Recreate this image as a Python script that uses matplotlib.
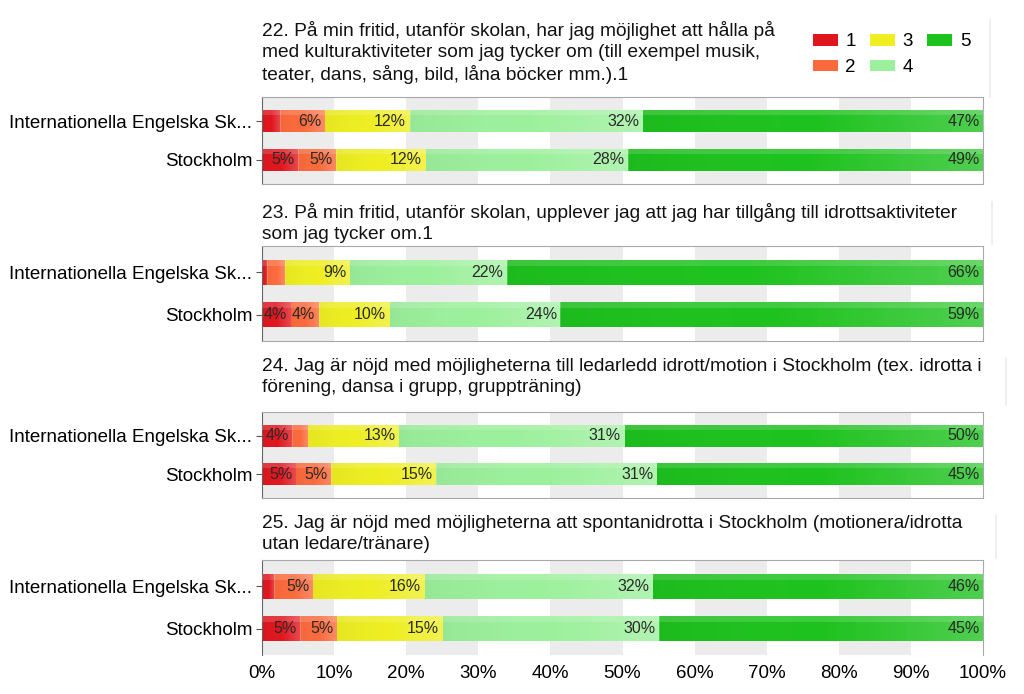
import matplotlib
matplotlib.use('Agg')
import matplotlib.pyplot as plt
from matplotlib.patches import Patch
import numpy as np

plt.rcParams['font.family'] = ['Liberation Sans', 'DejaVu Sans']

# --- data -------------------------------------------------------------
groups = ['Internationella Engelska Sk...', 'Stockholm']
answers = ['1', '2', '3', '4', '5']

titles = [
    '22. På min fritid, utanför skolan, har jag möjlighet att hålla på\n'
    'med kulturaktiviteter som jag tycker om (till exempel musik,\n'
    'teater, dans, sång, bild, låna böcker mm.).1',
    '23. På min fritid, utanför skolan, upplever jag att jag har tillgång till idrottsaktiviteter\n'
    'som jag tycker om.1',
    '24. Jag är nöjd med möjligheterna till ledarledd idrott/motion i Stockholm (tex. idrotta i\n'
    'förening, dansa i grupp, gruppträning)',
    '25. Jag är nöjd med möjligheterna att spontanidrotta i Stockholm (motionera/idrotta\n'
    'utan ledare/tränare)',
]

# percent per answer 1..5, rows = [IES, Stockholm]
q22 = [[2.5, 6.2, 11.8, 32.3, 47.2], [5.0, 5.3, 12.4, 28.1, 49.2]]
q23 = [[0.7, 2.5, 9.0, 21.8, 66.0], [4.0, 3.9, 9.8, 23.7, 58.6]]
q24 = [[4.2, 2.2, 12.6, 31.3, 49.7], [4.7, 4.9, 14.6, 30.6, 45.2]]
q25 = [[1.7, 5.4, 15.5, 31.6, 45.8], [5.3, 5.1, 14.7, 30.0, 44.9]]
questions = [q22, q23, q24, q25]

colors = ['#e0161e', '#fb6a3c', '#eeee22', '#9cf09c', '#1ec21e']

# panel positions in pixels (top, bottom) and title line start
W, H = 1024, 694
panels = [(97, 184), (246, 341), (412, 498), (560, 655)]
title_top = [21, 203, 358, 515]
shadow = [(990, 20, 97), (992, 202, 244), (1006, 358, 405), (996, 515, 558)]
x0, x1 = 262, 983

fig = plt.figure(figsize=(W / 100, H / 100), dpi=100)
fig.patch.set_facecolor('white')

grad = np.linspace(0, 1, 64).reshape(1, -1)
white_cmap = matplotlib.colors.LinearSegmentedColormap.from_list(
    'w', [(0, 0, 0, 0.04), (1, 1, 1, 0.0), (1, 1, 1, 0.22)])

for i, (q, (top, bot)) in enumerate(zip(questions, panels)):
    ax = fig.add_axes([x0 / W, 1 - bot / H, (x1 - x0) / W, (bot - top) / H])
    ax.set_xlim(0, 100)
    ax.set_ylim(1.62, -0.62)

    # alternating background bands
    for k in range(0, 100, 20):
        ax.axvspan(k, k + 10, color='#ececec', zorder=0, lw=0)

    y = np.arange(len(groups))
    vals = np.array(q)
    left = np.zeros(len(groups))
    for j in range(len(answers)):
        bars = ax.barh(y, vals[:, j], left=left, height=0.58,
                       color=colors[j], edgecolor='none', zorder=2)
        for b, v, l in zip(bars, vals[:, j], left):
            im = ax.imshow(grad, cmap=white_cmap, aspect='auto', zorder=3,
                           extent=(l, l + v, b.get_y() + b.get_height(), b.get_y()))
            im.set_clip_path(b)
            # glossy top stripe
            ax.barh(b.get_y() + b.get_height() * 0.12, v, left=l,
                    height=b.get_height() * 0.24, color='white', alpha=0.15,
                    edgecolor='none', zorder=3)
            if v >= 3.5:
                ax.text(l + v - 0.5, b.get_y() + b.get_height() / 2,
                        f'{round(v):.0f}%', ha='right', va='center',
                        fontsize=11.5, color='#2a2a2a', zorder=4)
        left += vals[:, j]

    ax.set_xlim(0, 100)
    ax.set_ylim(1.62, -0.62)
    ax.set_yticks(y)
    ax.set_yticklabels(groups, fontsize=13.5)
    ax.tick_params(axis='y', length=4, color='#555555', pad=3)
    for s in ax.spines.values():
        s.set_color('#a8a8a8')
    ax.spines['left'].set_color('#666666')
    ax.set_xticks(np.arange(0, 101, 10))
    if i == len(questions) - 1:
        ax.set_xticklabels([f'{t}%' for t in range(0, 101, 10)], fontsize=13.5)
        ax.tick_params(axis='x', length=0, pad=7)
        ax.spines['bottom'].set_visible(False)
    else:
        ax.tick_params(axis='x', length=0, labelbottom=False)

    # title above panel
    fig.text(x0 / W, 1 - title_top[i] / H, titles[i], ha='left', va='top',
             fontsize=13.8, linespacing=1.28, color='#111111')
    sx, sy0, sy1 = shadow[i]
    fig.add_artist(plt.Line2D([sx / W, sx / W], [1 - sy0 / H, 1 - sy1 / H],
                              color='#ececec', lw=1.2))

handles = [Patch(facecolor=c, edgecolor='none') for c in colors]
fig.legend(handles, answers, loc='upper left', ncol=3, frameon=False,
           bbox_to_anchor=(805 / W, 1 - 26 / H), fontsize=13.5,
           handlelength=1.35, handleheight=0.55, handletextpad=0.4,
           columnspacing=0.75, labelspacing=0.45, borderaxespad=0)

fig.savefig('out.png', dpi=100)
